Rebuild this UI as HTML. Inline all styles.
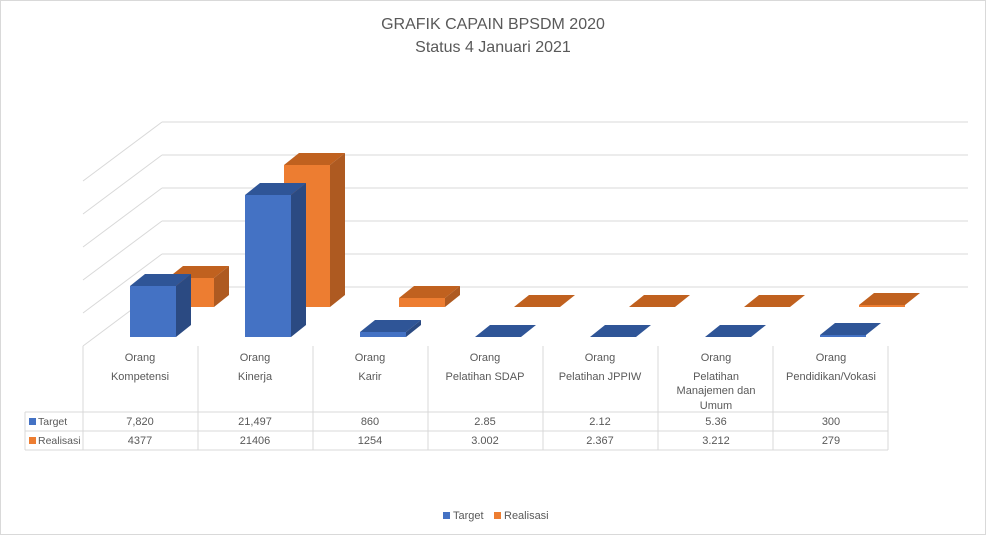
<!DOCTYPE html>
<html><head><meta charset="utf-8"><style>
body{margin:0;background:#fff}
svg{display:block}
text{font-family:"Liberation Sans",sans-serif;fill:#595959}
</style></head><body>
<svg width="986" height="535" viewBox="0 0 986 535">
<rect x="0.5" y="0.5" width="985" height="534" fill="#fff" stroke="#d9d9d9"/>
<text x="493" y="29" font-size="16" text-anchor="middle">GRAFIK CAPAIN BPSDM 2020</text>
<text x="493" y="52" font-size="16" text-anchor="middle">Status 4 Januari 2021</text>
<g stroke="#d9d9d9" stroke-width="1" fill="none">
<path d="M162 122H968M162 155H968M162 188H968M162 221H968M162 254H968M162 287H968"/>
<path d="M83 181L162 122M83 214L162 155M83 247L162 188M83 280L162 221M83 313L162 254M83 346L162 287"/>
<path d="M83 346V450M198 346V450M313 346V450M428 346V450M543 346V450M658 346V450M773 346V450M888 346V450"/>
<path d="M25 412H888M25 431H888M25 450H888M25 412V450"/>
</g>
<g>
<polygon points="168,278 214,278 229,266 183,266" fill="#c0611f"/>
<polygon points="214,278 229,266 229,295 214,307" fill="#ae5a21"/>
<rect x="168" y="278" width="46" height="29" fill="#ed7d31"/>
<polygon points="284,165 330,165 345,153 299,153" fill="#c0611f"/>
<polygon points="330,165 345,153 345,295 330,307" fill="#ae5a21"/>
<rect x="284" y="165" width="46" height="142" fill="#ed7d31"/>
<polygon points="399,298 445,298 460,286 414,286" fill="#c0611f"/>
<polygon points="445,298 460,286 460,295 445,307" fill="#ae5a21"/>
<rect x="399" y="298" width="46" height="9" fill="#ed7d31"/>
<polygon points="514,307 560,307 575,295 529,295" fill="#c0611f"/>
<polygon points="629,307 675,307 690,295 644,295" fill="#c0611f"/>
<polygon points="744,307 790,307 805,295 759,295" fill="#c0611f"/>
<polygon points="859,305 905,305 920,293 874,293" fill="#c0611f"/>
<rect x="859" y="305" width="46" height="2" fill="#ed7d31"/>
</g>
<g>
<polygon points="130,286 176,286 191,274 145,274" fill="#2f5597"/>
<polygon points="176,286 191,274 191,325 176,337" fill="#2b4a82"/>
<rect x="130" y="286" width="46" height="51" fill="#4472c4"/>
<polygon points="245,195 291,195 306,183 260,183" fill="#2f5597"/>
<polygon points="291,195 306,183 306,325 291,337" fill="#2b4a82"/>
<rect x="245" y="195" width="46" height="142" fill="#4472c4"/>
<polygon points="360,332 406,332 421,320 375,320" fill="#2f5597"/>
<polygon points="406,332 421,320 421,325 406,337" fill="#2b4a82"/>
<rect x="360" y="332" width="46" height="5" fill="#4472c4"/>
<polygon points="475,337 521,337 536,325 490,325" fill="#2f5597"/>
<polygon points="590,337 636,337 651,325 605,325" fill="#2f5597"/>
<polygon points="705,337 751,337 766,325 720,325" fill="#2f5597"/>
<polygon points="820,335 866,335 881,323 835,323" fill="#2f5597"/>
<rect x="820" y="335" width="46" height="2" fill="#4472c4"/>
</g>
<g font-size="11" text-anchor="middle">
<text x="140" y="361">Orang</text><text x="140" y="380">Kompetensi</text>
<text x="255" y="361">Orang</text><text x="255" y="380">Kinerja</text>
<text x="370" y="361">Orang</text><text x="370" y="380">Karir</text>
<text x="485" y="361">Orang</text><text x="485" y="380">Pelatihan SDAP</text>
<text x="600" y="361">Orang</text><text x="600" y="380">Pelatihan JPPIW</text>
<text x="716" y="361">Orang</text><text x="716" y="380">Pelatihan</text><text x="716" y="394">Manajemen dan</text><text x="716" y="409">Umum</text>
<text x="831" y="361">Orang</text><text x="831" y="380">Pendidikan/Vokasi</text>
<text x="140" y="425">7,820</text><text x="255" y="425">21,497</text><text x="370" y="425">860</text><text x="485" y="425">2.85</text><text x="600" y="425">2.12</text><text x="716" y="425">5.36</text><text x="831" y="425">300</text>
<text x="140" y="444">4377</text><text x="255" y="444">21406</text><text x="370" y="444">1254</text><text x="485" y="444">3.002</text><text x="600" y="444">2.367</text><text x="716" y="444">3.212</text><text x="831" y="444">279</text>
</g>
<rect x="29" y="418" width="7" height="7" fill="#4472c4"/>
<text x="38" y="425" font-size="10.5">Target</text>
<rect x="29" y="437" width="7" height="7" fill="#ed7d31"/>
<text x="38" y="444" font-size="10.5">Realisasi</text>
<rect x="443" y="512" width="7" height="7" fill="#4472c4"/>
<text x="453" y="519" font-size="11">Target</text>
<rect x="494" y="512" width="7" height="7" fill="#ed7d31"/>
<text x="504" y="519" font-size="11">Realisasi</text>
</svg>
</body></html>
